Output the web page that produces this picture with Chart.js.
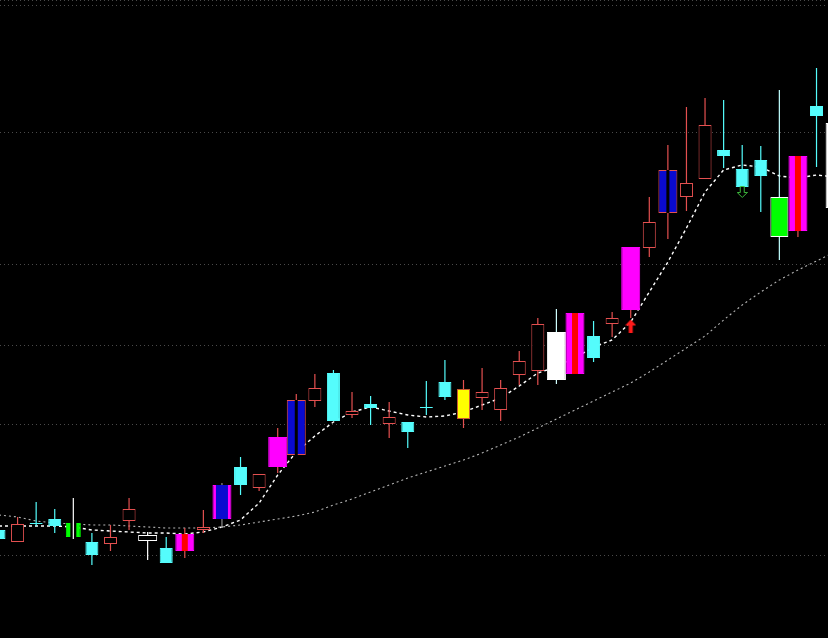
<!DOCTYPE html>
<html>
<head>
<meta charset="utf-8">
<script src="https://cdn.jsdelivr.net/npm/chart.js@4.4.1/dist/chart.umd.min.js"></script>
<style>
  html, body { margin: 0; padding: 0; background: #000; }
  #wrap { width: 828px; height: 638px; position: relative; }
</style>
</head>
<body>
<div id="wrap"><canvas id="kline"></canvas></div>
<script>
// candle kind decides the colour scheme of each bar
const kinds = ['down','up','down','down','greenGap','down','up','up','hollowW','down',
  'magStripe','up','blueMag','down','up','magenta','blueRed','up','down','up',
  'down','up','down','down','down','yellow','up','up','up','up',
  'whiteFill','magStripe','down','up','magenta','up','blueRed','up','up','down',
  'down','down','greenWhite','magStripe','down','whiteFill'];

const open  = [11.08,10.96,11.15,11.19,11.15,10.96,10.94,11.17,11.03,10.90,10.87,11.08,11.19,11.71,11.50,11.71,11.83,12.37,12.65,12.23,12.34,12.14,12.16,12.31,12.56,12.19,12.40,12.28,12.63,12.67,12.58,12.64,13.02,13.14,13.28,13.90,14.25,14.41,14.59,14.88,14.69,14.78,14.41,14.07,15.32,14.30];
const close = [10.99,11.14,11.14,11.12,11.01,10.83,11.01,11.29,10.97,10.75,11.04,11.11,11.53,11.53,11.64,12.01,12.38,12.50,12.17,12.27,12.30,12.21,12.06,12.30,12.41,12.49,12.46,12.50,12.77,13.14,13.06,13.25,12.80,13.20,13.91,14.16,14.68,14.55,15.13,14.82,14.51,14.62,14.01,14.82,15.22,15.15];
const high  = [11.08,11.21,11.36,11.29,11.40,11.05,11.13,11.40,11.06,11.01,11.10,11.28,11.55,11.81,11.64,12.10,12.44,12.64,12.68,12.46,12.42,12.36,12.16,12.57,12.78,12.58,12.70,12.58,12.87,13.20,13.29,13.25,13.17,13.26,13.91,14.41,14.93,15.31,15.40,15.38,14.93,14.92,15.48,14.82,15.70,15.28];
const low   = [10.99,10.96,11.12,11.05,10.99,10.73,10.87,11.08,10.78,10.75,10.80,11.05,11.10,11.43,11.47,11.65,11.83,12.31,12.17,12.20,12.13,12.00,11.90,12.23,12.38,12.10,12.28,12.17,12.53,12.53,12.54,12.64,12.76,13.01,13.20,13.81,13.99,14.27,14.59,14.70,14.51,14.26,13.78,14.01,14.71,14.23];

const maShort = [11.12,11.12,11.12,11.12,11.11,11.08,11.07,11.06,11.05,11.05,11.04,11.06,11.11,11.18,11.35,11.63,11.86,12.02,12.16,12.26,12.31,12.27,12.23,12.21,12.22,12.26,12.33,12.40,12.52,12.65,12.71,12.80,12.91,12.98,13.16,13.46,13.76,14.10,14.46,14.68,14.73,14.71,14.62,14.60,14.63,14.61];
const maLong  = [11.23,11.21,11.17,11.15,11.14,11.13,11.13,11.12,11.11,11.10,11.10,11.10,11.11,11.13,11.16,11.19,11.22,11.26,11.33,11.39,11.46,11.53,11.60,11.66,11.72,11.78,11.85,11.93,12.01,12.10,12.19,12.28,12.37,12.46,12.55,12.66,12.78,12.90,13.02,13.18,13.33,13.46,13.58,13.68,13.77,13.86];

const gridPrices = [16.37, 16.33, 15.05, 13.73, 12.93, 12.13, 10.83];
const upArrowAt = [34], upArrowPrice = [13.12];
const downArrowAt = [40], downArrowPrice = [14.46];

const RED = '#e45050', CYAN = '#54fcfc', MAG = '#ff00ff', BLUE = '#0a0ad0';
const GREEN = '#00ff00', YELLOW = '#ffff00';

const STYLE = {
  up:         { w: 13, fill: '#000', line: RED, wick: RED },
  down:       { w: 13, fill: CYAN, line: CYAN, wick: CYAN },
  hollowW:    { w: 19, fill: '#000', line: '#ffffff', wick: '#ffffff' },
  magenta:    { w: 19, fill: MAG, line: MAG, wick: RED },
  magStripe:  { w: 19, fill: MAG, line: MAG, wick: RED, stripe: '#ff0000', sw: 6 },
  blueMag:    { w: 19, fill: MAG, line: MAG, wick: '#909090', stripe: BLUE, sw: 12 },
  blueRed:    { w: 19, fill: BLUE, line: RED, wick: RED, stripe: '#000', sw: 3 },
  greenGap:   { w: 15, fill: GREEN, line: GREEN, wick: '#ffffff', stripe: '#000', sw: 6, wickFront: true },
  yellow:     { w: 13, fill: YELLOW, line: '#c85a32', wick: RED },
  whiteFill:  { w: 19, fill: '#ffffff', line: '#ffffff', wick: '#d0ffff' },
  greenWhite: { w: 18, fill: GREEN, line: '#ffffff', wick: '#c0ffff' }
};

const idx = kinds.map((k, i) => i);
const st = ctx => STYLE[kinds[ctx.raw.x]];

function arrowUp() {
  const c = document.createElement('canvas');
  c.width = 11; c.height = 13;
  const g = c.getContext('2d');
  g.fillStyle = '#ff1a1a';
  g.beginPath(); g.moveTo(5.5, 0); g.lineTo(11, 6); g.lineTo(0, 6); g.closePath(); g.fill();
  g.fillRect(3.5, 6, 4, 7);
  return c;
}
function arrowDown() {
  const c = document.createElement('canvas');
  c.width = 11; c.height = 12;
  const g = c.getContext('2d');
  g.strokeStyle = '#3cb83c'; g.lineWidth = 1;
  g.beginPath();
  g.moveTo(3.5, 0.5); g.lineTo(7.5, 0.5); g.lineTo(7.5, 6.5); g.lineTo(10.5, 6.5);
  g.lineTo(5.5, 11.5); g.lineTo(0.5, 6.5); g.lineTo(3.5, 6.5); g.closePath();
  g.stroke();
  return c;
}

const datasets = [];

datasets.push({
  type: 'line', order: 10,
  data: idx.map(i => ({ x: i, y: maShort[i] })),
  borderColor: '#ffffff', borderWidth: 1.4, borderDash: [3, 3],
  pointRadius: 0, tension: 0
});
datasets.push({
  type: 'line', order: 10,
  data: idx.map(i => ({ x: i, y: maLong[i] })),
  borderColor: '#b4b4b4', borderWidth: 1.1, borderDash: [2, 3],
  pointRadius: 0, tension: 0
});

// wicks
datasets.push({
  type: 'bar', order: 8, grouped: false, barThickness: 1.2,
  data: idx.filter(i => !STYLE[kinds[i]].wickFront).map(i => ({ x: i, y: [low[i], high[i]] })),
  backgroundColor: ctx => st(ctx).wick, borderWidth: 0, inflateAmount: 0
});
datasets.push({
  type: 'bar', order: 2, grouped: false, barThickness: 1.2,
  data: idx.filter(i => STYLE[kinds[i]].wickFront).map(i => ({ x: i, y: [low[i], high[i]] })),
  backgroundColor: ctx => st(ctx).wick, borderWidth: 0, inflateAmount: 0
});

// bodies, one dataset per body width
[13, 15, 18, 19].forEach(w => {
  datasets.push({
    type: 'bar', order: 6, grouped: false, barThickness: w,
    data: idx.filter(i => STYLE[kinds[i]].w === w).map(i => ({ x: i, y: [open[i], close[i]] })),
    backgroundColor: ctx => st(ctx).fill,
    borderColor: ctx => st(ctx).line,
    borderWidth: 1, borderSkipped: false, inflateAmount: 0
  });
});

// inner stripes of the marked candles
[3, 6, 12].forEach(w => {
  datasets.push({
    type: 'bar', order: 4, grouped: false, barThickness: w,
    data: idx.filter(i => STYLE[kinds[i]].sw === w).map(i => ({ x: i, y: [open[i], close[i]] })),
    backgroundColor: ctx => st(ctx).stripe,
    borderWidth: 0, inflateAmount: 0
  });
});

datasets.push({
  type: 'scatter', order: 1,
  data: upArrowAt.map((x, j) => ({ x: x, y: upArrowPrice[j] })),
  pointStyle: arrowUp(), pointRadius: 5
});
datasets.push({
  type: 'scatter', order: 1,
  data: downArrowAt.map((x, j) => ({ x: x, y: downArrowPrice[j] })),
  pointStyle: arrowDown(), pointRadius: 5
});

new Chart(document.getElementById('kline'), {
  type: 'bar',
  data: { datasets: datasets },
  options: {
    responsive: true,
    maintainAspectRatio: false,
    animation: false,
    layout: { padding: 0, autoPadding: false },
    plugins: { legend: { display: false }, tooltip: { enabled: false } },
    scales: {
      x: { type: 'linear', min: 0.054, max: 44.618, offset: false, display: false },
      y: {
        type: 'linear', min: 10.0, max: 16.38, position: 'left',
        afterBuildTicks: axis => { axis.ticks = gridPrices.map(v => ({ value: v })); },
        ticks: { display: false },
        grid: { color: '#4a4a4a', lineWidth: 1, drawTicks: false },
        border: { display: false, dash: [1, 3] }
      }
    }
  }
});
</script>
</body>
</html>
